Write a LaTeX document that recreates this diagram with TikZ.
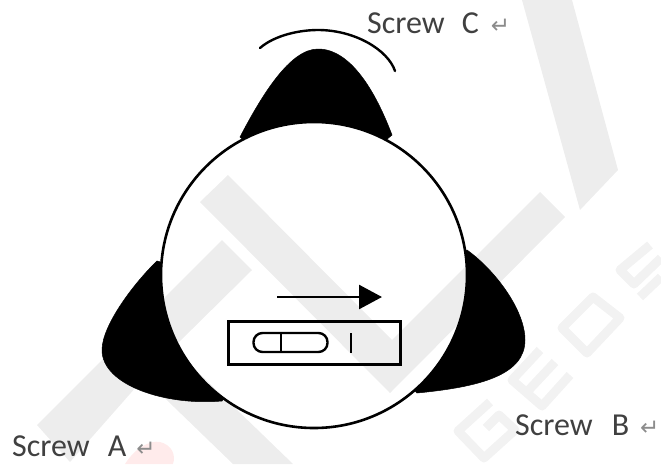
\documentclass[tikz,border=0pt]{standalone}
\usepackage{fontspec}
\setmainfont{Carlito}
\newfontfamily\retfont{DejaVu Sans}
\usetikzlibrary{positioning, arrows.meta, calc}
\newcommand{\retmark}{{\color{black!45}\retfont\fontsize{23}{23}\selectfont ↵}}
\tikzset{
  lobe/.style={fill=black, draw=black, line width=0.5pt},
  rimline/.style={draw=black, line width=2.6pt},
  screwtext/.style={anchor=base west, inner sep=0pt, text=black!75, font=\fontsize{32}{34}\selectfont},
  wmletter/.style={draw=black, line width=9pt, opacity=0.05, line join=round}
}

\begin{document}
\begin{tikzpicture}[x=1pt, y=-1pt]
    \useasboundingbox (0,0) rectangle (661,464);
    % lobes behind the plate
    \draw[lobe] (240,137) .. controls (262,95) and (290,49) .. (318,49)
                .. controls (350,49) and (375,90) .. (392,135) -- (314,200) -- cycle;
    \draw[lobe] (157,261) .. controls (135,282) and (102,325) .. (102,350)
                .. controls (102,385) and (165,406) .. (222,401) -- (300,300) -- cycle;
    \draw[lobe] (467,250) .. controls (495,270) and (525,310) .. (525,340)
                .. controls (525,375) and (480,387) .. (417,393) -- (330,300) -- cycle;
    \node[circle, rimline, fill=white, inner sep=0pt, minimum size=306pt] (plate) at (314,275) {};
    % watermark
    \fill[black, opacity=0.07] (222,240) -- (252,270) -- (173,348) -- (293,464) -- (233,464)
                -- (144,378) -- (70,462) -- (37,425) -- cycle
                (200,202) -- (228,175) -- (392,340) -- (540,192) -- (565,217) -- (390,393) -- cycle
                (522,0) -- (572,0) -- (618,170) -- (580,210) -- cycle;
    \draw[wmletter] (490,402) -- (458,431) -- (484,458) -- (515,430) -- (499,415) -- (486,428); % G
    \draw[wmletter] (540,350) -- (512,380) -- (542,406) -- (570,375) (526,393) -- (555,362); % E
    \draw[wmletter] (593,297) -- (562,328) -- (587,353) -- (620,318) -- cycle; % O
    \draw[wmletter] (650,245) -- (620,270) -- (634,284) -- (661,258) (640,297) -- (661,277); % S
    \fill[red!70!pink, opacity=0.1] (125,464) .. controls (135,448) and (150,440) .. (160,442)
                .. controls (172,445) and (176,455) .. (173,464) -- cycle;
    % test cassette under the plate
    \node[draw=black, line width=2.4pt, minimum width=172pt, minimum height=43pt, inner sep=0pt] (cassette) at (314.5,343) {};
    \node[draw=black, line width=2.4pt, rounded corners=9pt, minimum width=74pt, minimum height=19pt, inner sep=0pt] (pill) at (290.5,342.5) {};
    \coordinate (pilltop) at (281,333);
    \coordinate (pillbot) at (281,352);
    \coordinate (tickt) at (351,333);
    \coordinate (tickb) at (351,353);
    \draw[line width=2.4pt] (pilltop) -- (pillbot);
    \draw[line width=2.4pt] (tickt) -- (tickb);
    \coordinate (flowa) at (277,297);
    \coordinate (flowb) at (382,297);
    \draw[-{Triangle[length=23pt, width=24pt]}, line width=2.6pt] (flowa) -- (flowb);
    \coordinate (arcl) at (260,48);
    \coordinate (arcr) at (395,71);
    \draw[line width=2.4pt, line cap=round] (arcl) .. controls (275,35) and (300,30) .. (318,30)
                .. controls (355,30) and (388,50) .. (arcr);
    \node[screwtext] (screwc) at (367,33) {Screw\hspace{17pt}C\hspace{12pt}\retmark};
    \node[screwtext] (screwb) at (515,435) {Screw\hspace{19pt}B\hspace{11pt}\retmark};
    \node[screwtext] (screwa) at (12,456) {Screw\hspace{18pt}A\hspace{10pt}\retmark};
  \end{tikzpicture}
\end{document}
